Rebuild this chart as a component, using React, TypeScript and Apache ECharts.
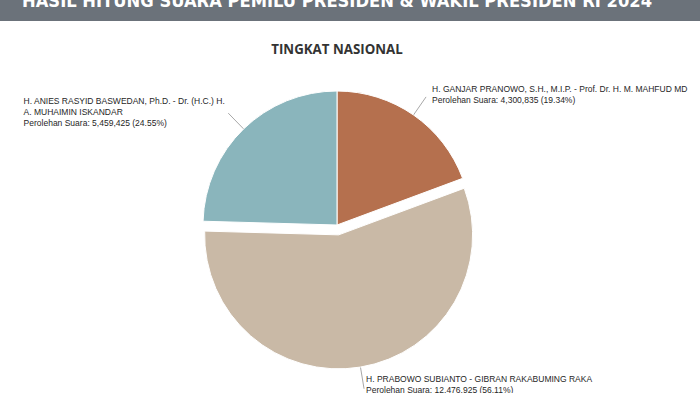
import React, { useEffect, useRef } from "react";
import * as echarts from "echarts";

const headerText = "HASIL HITUNG SUARA PEMILU PRESIDEN & WAKIL PRESIDEN RI 2024";
const titleText = "TINGKAT NASIONAL";
const candidates = [
  "H. GANJAR PRANOWO, S.H., M.I.P. - Prof. Dr. H. M. MAHFUD MD",
  "H. PRABOWO SUBIANTO - GIBRAN RAKABUMING RAKA",
  "H. ANIES RASYID BASWEDAN, Ph.D. - Dr. (H.C.) H.\nA. MUHAIMIN ISKANDAR",
];
const votes = [4300835, 12476925, 5459425];
const colors = ["#b5704e", "#c9b9a6", "#8ab5bc"];
const selectedIdx = [1];

const headerFamily = "'Liberation Sans Narrow', 'DejaVu Sans Condensed', 'Roboto', sans-serif";

function fitFontSize(text: string, family: string, target: number): number {
  const c = document.createElement("canvas").getContext("2d");
  if (!c) return 17;
  c.font = "bold 22px " + family;
  const w = c.measureText(text).width;
  return w > 0 ? (22 * target) / w : 17;
}

export default function App() {
  const ref = useRef<HTMLDivElement>(null);
  useEffect(() => {
    document.body.style.margin = "0";
    const chart = echarts.init(ref.current!, undefined, { renderer: "svg" });
    const hs = fitFontSize(headerText, headerFamily, 630);
    chart.setOption({
      animation: false,
      backgroundColor: "#ffffff",
      graphic: [
        { type: "rect", left: 0, top: 0, shape: { width: 700, height: 21 }, style: { fill: "#6b727a" }, z: 0 },
        {
          type: "text",
          x: 22,
          y: 5 + hs * 0.22,
          style: {
            text: headerText,
            fill: "#ffffff",
            font: "bold " + hs.toFixed(2) + "px " + headerFamily,
            verticalAlign: "bottom",
          },
          z: 1,
        },
      ],
      title: {
        text: titleText,
        left: 332,
        top: 37,
        textAlign: "center",
        textStyle: { fontFamily: "'Open Sans', sans-serif", fontWeight: "bold", fontSize: 13.3, color: "#333333" },
      },
      series: [
        {
          type: "pie",
          center: [337, 225],
          radius: 134,
          startAngle: 90,
          clockwise: true,
          selectedMode: "single",
          selectedOffset: 10,
          percentPrecision: 2,
          itemStyle: { borderColor: "#ffffff", borderWidth: 1 },
          emphasis: { disabled: true },
          select: { itemStyle: { borderColor: "#ffffff", borderWidth: 1 } },
          label: {
            show: true,
            position: "outside",
            fontFamily: "'Liberation Sans', Arial, sans-serif",
            fontSize: 8.5,
            lineHeight: 11,
            color: "#262626",
            formatter: (p: any) =>
              p.name + "\nPerolehan Suara: " + Number(p.value).toLocaleString("en-US") + " (" + p.percent.toFixed(2) + "%)",
          },
          labelLine: { show: true, length: 22, length2: 0, lineStyle: { color: "#a8a8a8", width: 1 } },
          labelLayout: (p: any) => {
            if (p.dataIndex === 1) {
              return { dx: -3, dy: -4 };
            }
            const pts = p.labelLinePoints;
            if (!pts || pts.length < 2) return {};
            const a = pts[0];
            const b = pts[1];
            const w = p.labelRect.width;
            const line = [a, b, b];
            if (p.dataIndex === 0) {
              return { x: b[0] + 6, y: b[1] - 2, align: "left", verticalAlign: "middle", labelLinePoints: line };
            }
            return { x: b[0] - 3 - w, y: b[1] - 1, align: "left", verticalAlign: "middle", labelLinePoints: line };
          },
          data: candidates.map((name, i) => ({
            name,
            value: votes[i],
            selected: selectedIdx.includes(i),
            itemStyle: { color: colors[i] },
          })),
        },
      ],
    });
    return () => chart.dispose();
  }, []);
  return <div ref={ref} style={{ width: 700, height: 393 }} />;
}
